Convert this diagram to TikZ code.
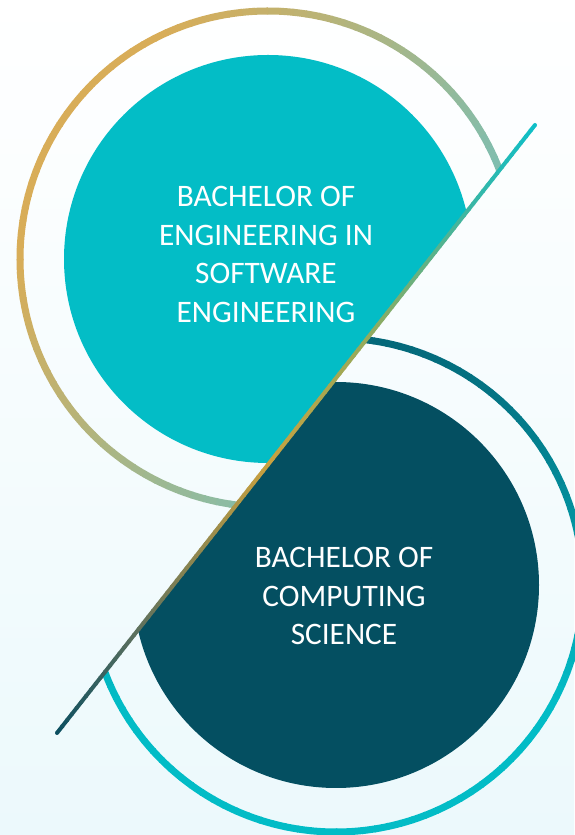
\documentclass[tikz,border=0pt]{standalone}
\usepackage{fontspec}
\setmainfont{Carlito}
\usetikzlibrary{calc}
\definecolor{topfill}{HTML}{03BDC6}
\definecolor{darkfill}{HTML}{044F61}
\definecolor{ringgold}{HTML}{D8AD58}
\definecolor{ringsage}{HTML}{78BFB6}
\definecolor{ringdark}{HTML}{046879}
\definecolor{ringcyan}{HTML}{02BCC6}
\definecolor{bgcyan}{HTML}{ECF9FC}
\definecolor{lc0}{HTML}{0C4F60}
\definecolor{lc1}{HTML}{5A6F5E}
\definecolor{lc2}{HTML}{C9A13F}
\definecolor{lc3}{HTML}{94AB5C}
\definecolor{lc4}{HTML}{3CB6A3}
\definecolor{lc5}{HTML}{0EBFC8}
\newcommand\linepiece[5]{%
  \foreach \k in {1,...,#5}{%
    \pgfmathsetmacro\ta{#3+(#4-#3)*(\k-1)/#5}%
    \pgfmathsetmacro\tb{min(1,#3+(#4-#3)*\k/#5+0.002)}%
    \pgfmathsetmacro\mm{100*(\k-0.5)/#5}%
    \draw[linestroke, draw=#2!\mm!#1] ($(A)!\ta!(B)$) -- ($(A)!\tb!(B)$);
  }}
\begin{document}
\begin{tikzpicture}[x=1pt,y=1pt,
  linestroke/.style={line width=4pt},
  ringstroke/.style={line width=7pt},
  progtext/.style={inner sep=0pt, align=center, text=white, font=\fontsize{31.3}{38.5}\selectfont}]
\useasboundingbox (0,0) rectangle (574,835);
\shade[top color=white, bottom color=bgcyan] (0,0) rectangle (574,835);
\coordinate (A) at (57,102);
\coordinate (B) at (535,710);
\coordinate (T) at (268,576);
\coordinate (D) at (336,250);
% upper-left half
\begin{scope}
  \clip (-421,-506) -- (1013,1318) -- (-1000,1318) -- (-1000,-506) -- cycle;
  \fill[topfill] (T) circle[radius=204];
  \foreach \a in {0,3,...,357}{
    \pgfmathsetmacro\p{max(0,min(100,54.56*(1+cos(\a+1.5))-34.47*sin(\a+1.5)))}
    \draw[ringstroke, draw=ringsage!\p!ringgold] (T) ++(\a:248) arc[start angle=\a, end angle=\a+3.3, radius=248];
  }
\end{scope}
% lower-right half
\begin{scope}
  \clip (-421,-506) -- (1013,1318) -- (1500,1318) -- (1500,-506) -- cycle;
  \fill[darkfill] (D) circle[radius=203];
  \foreach \a in {0,3,...,357}{
    \pgfmathsetmacro\p{max(0,min(100,(245-247*sin(\a+1.5))/3.6))}
    \draw[ringstroke, draw=ringcyan!\p!ringdark] (D) ++(\a:247) arc[start angle=\a, end angle=\a+3.3, radius=247];
  }
\end{scope}
% diagonal line
\linepiece{lc0}{lc1}{0}{0.16}{16}
\linepiece{lc1}{lc2}{0.16}{0.44}{28}
\linepiece{lc2}{lc3}{0.44}{0.65}{21}
\linepiece{lc3}{lc4}{0.65}{0.86}{21}
\linepiece{lc4}{lc5}{0.86}{1}{14}
\fill[lc0] (A) circle[radius=2];
\fill[lc5] (B) circle[radius=2];
% texts
\node[progtext] (se) at (266,580.6) {BACHELOR OF\\ENGINEERING IN\\SOFTWARE\\ENGINEERING};
\node[progtext] (cs) at (344,239) {BACHELOR OF\\COMPUTING\\SCIENCE};
\end{tikzpicture}
\end{document}
